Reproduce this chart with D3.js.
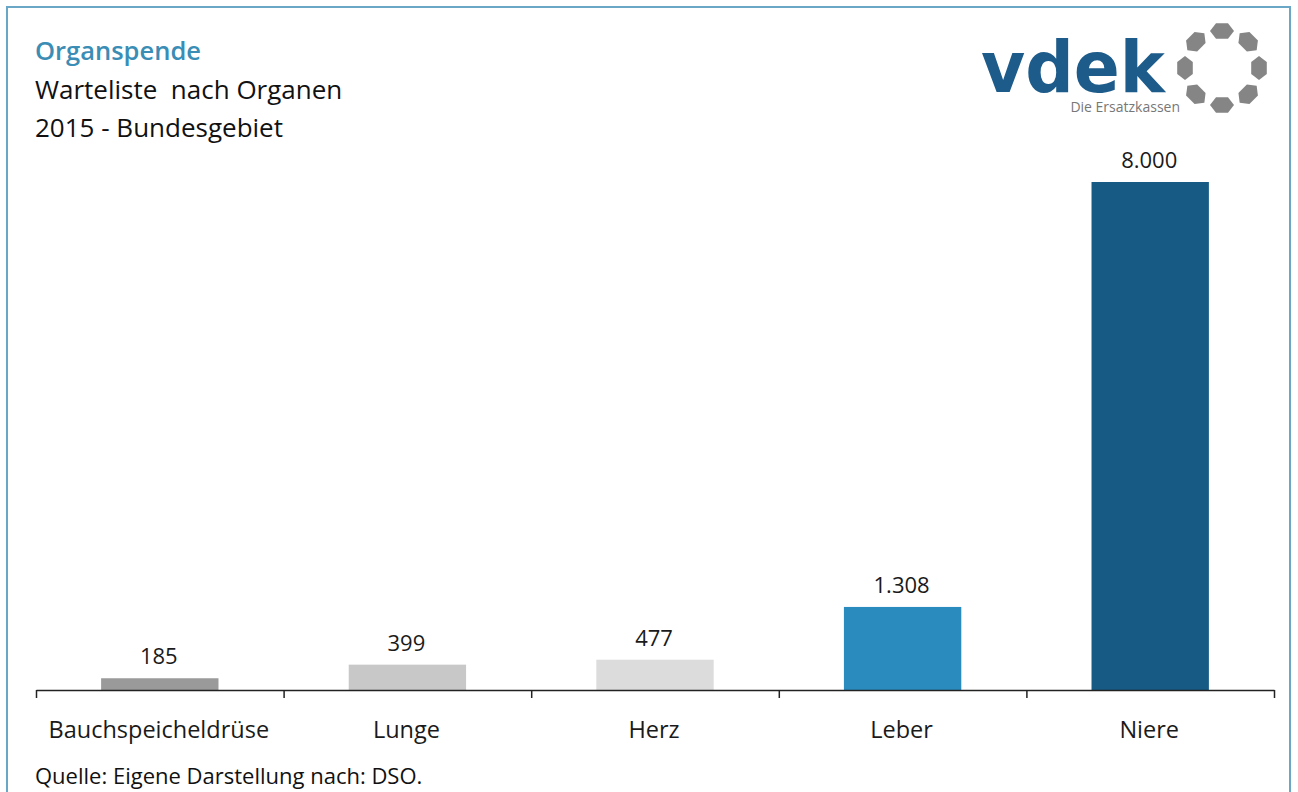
<!DOCTYPE html>
<html>
<head>
<meta charset="utf-8">
<script src="https://cdn.jsdelivr.net/npm/d3@7"></script>
<style>
  body { margin: 0; background: #fff; }
  svg { display: block; font-family: "Open Sans", sans-serif; }
</style>
</head>
<body>
<svg width="1298" height="792"></svg>
<script>
const organs = ["Bauchspeicheldrüse", "Lunge", "Herz", "Leber", "Niere"]
const waiting = [185, 399, 477, 1308, 8000]
const barColors = ["#9a9a9a", "#c8c8c8", "#dcdcdc", "#2a8bbf", "#175a84"]
const titleLines = ["Organspende", "Warteliste  nach Organen", "2015 - Bundesgebiet"]
const sourceNote = "Quelle: Eigene Darstellung nach: DSO."

const data = organs.map((o, i) => ({organ: o, value: waiting[i], color: barColors[i]}))

function createBars(data){
    const svg = d3.select("svg")

    // frame
    svg.append("rect")
        .attr("x", 7).attr("y", 7)
        .attr("width", 1283).attr("height", 800)
        .attr("fill", "none")
        .attr("stroke", "#6aa6c6")
        .attr("stroke-width", 2)

    const xScale = d3.scaleBand().domain(organs).range([36, 1274])
    // position of the bar inside its category slot
    const inner = d3.scaleLinear().domain([0, 1]).range([0, xScale.bandwidth()])
    const yScale = d3.scaleLinear().domain([0, 8000]).range([690, 182])

    svg.append("g")
        .selectAll("rect")
        .data(data)
        .enter()
        .append("rect")
        .attr("x", d => xScale(d.organ) + inner(0.263))
        .attr("y", d => yScale(d.value))
        .attr("width", inner(0.474))
        .attr("height", d => yScale(0) - yScale(d.value))
        .attr("fill", d => d.color)

    svg.append("g")
        .selectAll("text")
        .data(data)
        .enter()
        .append("text")
        .attr("x", d => xScale(d.organ) + xScale.bandwidth() / 2 - 1)
        .attr("y", d => yScale(d.value) - 14)
        .attr("text-anchor", "middle")
        .attr("font-size", 22)
        .attr("fill", "#1a1a1a")
        .text(d => d3.format(",")(d.value).replace(",", "."))

    // axis with ticks at category boundaries
    const edges = organs.map(o => xScale(o)).concat([xScale.range()[1]])
    const xAxis = d3.axisBottom(d3.scaleLinear().domain([36, 1274]).range([36, 1274]))
        .tickValues(edges).tickSize(8).tickSizeOuter(0).tickFormat("")
    svg.append("g")
        .attr("transform", "translate(0, 690)")
        .call(xAxis)
        .call(g => g.selectAll("path, line").attr("stroke", "#222").attr("stroke-width", 1.5))

    svg.append("g")
        .selectAll("text")
        .data(organs)
        .enter()
        .append("text")
        .attr("x", d => xScale(d) + xScale.bandwidth() / 2 - 1)
        .attr("y", 738)
        .attr("text-anchor", "middle")
        .attr("font-size", 23.5)
        .attr("fill", "#1a1a1a")
        .text(d => d)

    // titles
    svg.append("g")
        .selectAll("text")
        .data(titleLines)
        .enter()
        .append("text")
        .attr("x", 35)
        .attr("y", (d, i) => 60 + i * 38.5)
        .attr("font-size", (d, i) => i === 0 ? 25.5 : 26)
        .attr("font-weight", (d, i) => i === 0 ? 600 : 400)
        .attr("fill", (d, i) => i === 0 ? "#3a8db5" : "#111")
        .style("white-space", "pre")
        .text(d => d)

    svg.append("text")
        .attr("x", 35).attr("y", 784)
        .attr("font-size", 22)
        .attr("fill", "#111")
        .text(sourceNote)

    // logo
    const logo = svg.append("g")
    logo.append("text")
        .attr("x", 981).attr("y", 92)
        .attr("font-size", 72)
        .attr("font-weight", 700)
        .attr("font-family", "DejaVu Sans")
        .attr("fill", "#1d5b8a")
        .attr("textLength", 184)
        .attr("lengthAdjust", "spacingAndGlyphs")
        .text("vdek")
    logo.append("text")
        .attr("x", 1180).attr("y", 112)
        .attr("text-anchor", "end")
        .attr("font-size", 14)
        .attr("fill", "#777")
        .text("Die Ersatzkassen")

    const cx = 1222, cy = 68, r = 37
    const hex = d3.range(6).map(k => {
        const a = k * Math.PI / 3
        return [Math.cos(a) * 12, Math.sin(a) * 9]
    })
    logo.append("g")
        .selectAll("path")
        .data(d3.range(8))
        .enter()
        .append("path")
        .attr("d", d3.line()(hex) + "Z")
        .attr("fill", "#858585")
        .attr("transform", k => {
            const a = -90 + k * 45
            const px = cx + r * Math.cos(a * Math.PI / 180)
            const py = cy + r * Math.sin(a * Math.PI / 180)
            return `translate(${px},${py}) rotate(${a + 90})`
        })
}

createBars(data)
</script>
</body>
</html>
